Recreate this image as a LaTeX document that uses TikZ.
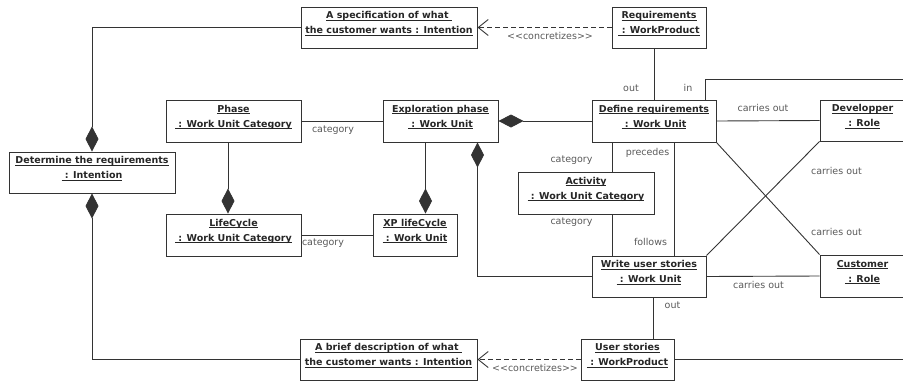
\documentclass[tikz,border=0pt]{standalone}
\usepackage{fontspec}
\setmainfont{DejaVu Sans}
\usetikzlibrary{arrows.meta,calc}
\newcommand\ulx[1]{\setbox0=\hbox{#1}\rlap{\rule[-1.6pt]{\wd0}{0.7pt}}\box0}
\newcommand\umlbox[6]{%
  \node[box,minimum width=#4-#2,minimum height=#5-#3] (#1) at ({(#2+#4)/2},{(#3+#5)/2}) {};
  \node[btxt] (#1-t) at ([yshift=4pt]#1.center) {#6};}
\newcommand\concr{<{}<concretizes>{}>}
\begin{document}
\begin{tikzpicture}[x=1pt,y=-1pt,
  box/.style={draw=black!80,line width=1pt,rectangle,inner sep=0pt,fill=white},
  btxt/.style={font=\fontsize{9.5}{15}\selectfont\bfseries,align=center,inner sep=0pt,text=black!85},
  lbl/.style={font=\fontsize{9.5}{11}\selectfont,text=black!65,inner sep=0pt},
  conn/.style={draw=black!80,line width=0.9pt},
  comp/.style={conn,{Diamond[length=25pt,width=13pt]}-},
  dep/.style={conn,dash pattern=on 5pt off 3pt,-{Straight Barb[length=10pt,width=16pt]}}
]
\useasboundingbox (0,0) rectangle (903,381);
\clip (0,0) rectangle (903,381);
\coordinate (inR) at (910,79);
\coordinate (usR) at (910,358);

\umlbox{aspec}{301}{7}{477}{48}{\ulx{A specification of what }\\\ulx{the customer wants : Intention}}
\umlbox{req}{612}{7}{706}{48}{\ulx{Requirements}\\\ulx{\ : WorkProduct}}
\umlbox{phase}{166}{100}{301}{142}{\ulx{Phase}\\\ulx{\ : Work Unit Category}}
\umlbox{expl}{383}{100}{498}{142}{\ulx{Exploration phase}\\\ulx{\ : Work Unit}}
\umlbox{define}{592}{100}{716}{142}{\ulx{Define requirements}\\\ulx{\ : Work Unit}}
\umlbox{dev}{820}{100}{905}{141}{\ulx{Developper}\\\ulx{\ : Role}}
\umlbox{det}{9}{152}{175}{193}{\ulx{Determine the requirements}\\\ulx{\ : Intention}}
\umlbox{act}{518}{172}{654}{214}{\ulx{Activity}\\\ulx{\ : Work Unit Category}}
\umlbox{life}{166}{214}{301}{256}{\ulx{LifeCycle}\\\ulx{\ : Work Unit Category}}
\umlbox{xp}{373}{214}{457}{256}{\ulx{XP lifeCycle}\\\ulx{\ : Work Unit}}
\umlbox{write}{592}{256}{706}{297}{\ulx{Write user stories}\\\ulx{\ : Work Unit}}
\umlbox{cust}{820}{255}{905}{297}{\ulx{Customer}\\\ulx{\ : Role}}
\umlbox{abrief}{300}{339}{477}{380}{\ulx{A brief description of what }\\\ulx{the customer wants : Intention}}
\umlbox{userst}{581}{339}{674}{380}{\ulx{User stories}\\\ulx{\ : WorkProduct}}

\draw[comp] (det.north) |- (aspec.west);
\draw[comp] (det.south) |- (abrief.west);
\draw[dep] (req.west) -- (aspec.east);
\draw[dep] (userst.west) -- (abrief.east);
\draw[conn] (define.north) -- (define.north |- req.south);
\draw[conn] ([xshift=-11pt]define.north east) |- (inR);
\draw[comp] (expl.east) -- (define.west);
\draw[conn] (phase.east) -- (expl.west);
\draw[comp] ([xshift=10.5pt]xp.north) -- ([xshift=10.5pt]xp.north |- expl.south);
\draw[comp] ([xshift=-5.5pt]life.north) -- ([xshift=-5.5pt]life.north |- phase.south);
\draw[conn] (life.east) -- (xp.west);
\draw[comp] ([xshift=-21pt]expl.south east) |- (write.west);
\draw[conn] (define.east) -- (dev.west);
\draw[conn] (define.south east) -- (cust.north west);
\draw[conn] (dev.south west) -- (write.north east);
\draw[conn] (write.east) -- (cust.west);
\draw[conn] ([xshift=26pt]act.north) -- ([xshift=26pt]act.north |- define.south);
\draw[conn] ([xshift=26pt]act.south) -- ([xshift=26pt]act.south |- write.north);
\draw[conn] ([xshift=20pt]define.south) -- ([xshift=20pt]define.south |- write.north);
\draw[conn] ([xshift=4pt]write.south) -- ([xshift=4pt]write.south |- userst.north);
\draw[conn] (userst.east) -- (userst.east -| usR);

\node[lbl] (l1) at (550,36) {\concr};
\node[lbl] (l2) at (631,88) {out};
\node[lbl] (l3) at (688,88) {in};
\node[lbl] (l4) at (763,108) {carries out};
\node[lbl] (l5) at (333,130) {category};
\node[lbl] (l6) at (647.5,153) {precedes};
\node[lbl] (l7) at (571.5,160) {category};
\node[lbl] (l8) at (836.5,171) {carries out};
\node[lbl] (l9) at (571.5,222) {category};
\node[lbl] (l10) at (836.5,232) {carries out};
\node[lbl] (l11) at (650.5,242) {follows};
\node[lbl] (l12) at (323,243) {category};
\node[lbl] (l13) at (758.5,285) {carries out};
\node[lbl] (l14) at (672.5,305) {out};
\node[lbl] (l15) at (535,368) {\concr};
\end{tikzpicture}
\end{document}
